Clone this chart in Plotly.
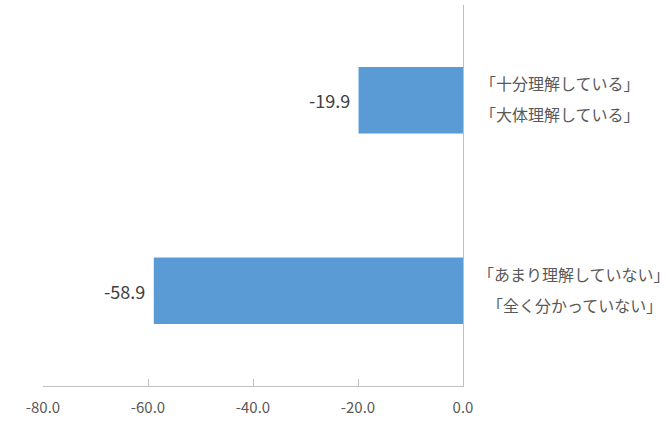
import plotly.graph_objects as go

categories = ["understand", "not_understand"]
values = [-19.9, -58.9]
label_lines = [
    ["「十分理解している」", "「大体理解している」"],
    ["「あまり理解していない」", "「全く分かっていない」"],
]
tick_vals = [-80, -60, -40, -20, 0]
tick_text = ["-80.0", "-60.0", "-40.0", "-20.0", "0.0"]

FONT = "Noto Sans CJK JP"
BAR_COLOR = "#5B9BD5"
AXIS_COLOR = "#BFBFBF"
TEXT_COLOR = "#595959"

fig = go.Figure()
fig.add_trace(go.Bar(
    y=categories, x=values, orientation="h",
    marker=dict(color=BAR_COLOR, line=dict(width=0)),
    width=0.35, hoverinfo="skip",
))

annotations = []
for cat, val in zip(categories, values):
    annotations.append(dict(
        x=val, y=cat, xref="x", yref="y", text=f"{val:.1f}",
        showarrow=False, xanchor="right", yanchor="middle", xshift=-7,
        font=dict(family=FONT, size=18, color="#404040"),
    ))

cat_xshift = [97, 111]
for i, (cat, lines) in enumerate(zip(categories, label_lines)):
    for j, line in enumerate(lines):
        annotations.append(dict(
            x=0, y=cat, xref="x", yref="y", text=line,
            showarrow=False, xanchor="center", yanchor="middle",
            xshift=cat_xshift[i], yshift=17 if j == 0 else -14,
            font=dict(family=FONT, size=16, color=TEXT_COLOR),
        ))

fig.update_layout(
    width=671, height=435,
    margin=dict(l=43, r=208, t=5, b=49),
    paper_bgcolor="white", plot_bgcolor="white",
    showlegend=False,
    annotations=annotations,
    xaxis=dict(
        range=[-80, 0], tickvals=tick_vals, ticktext=tick_text,
        showgrid=False, zeroline=False,
        showline=True, linecolor=AXIS_COLOR, linewidth=1,
        ticks="inside", ticklen=7, tickcolor=AXIS_COLOR, tickwidth=1,
        tickfont=dict(family=FONT, size=15, color=TEXT_COLOR),
        ticklabelstandoff=8,
    ),
    yaxis=dict(
        range=[1.5, -0.5], type="category",
        showgrid=False, zeroline=False, showticklabels=False,
        showline=True, side="right", linecolor=AXIS_COLOR, linewidth=1,
        ticks="",
    ),
)

fig.write_html(
    "out.html",
    config={"displayModeBar": False, "staticPlot": True},
    post_script="document.body.style.margin='0';",
)
